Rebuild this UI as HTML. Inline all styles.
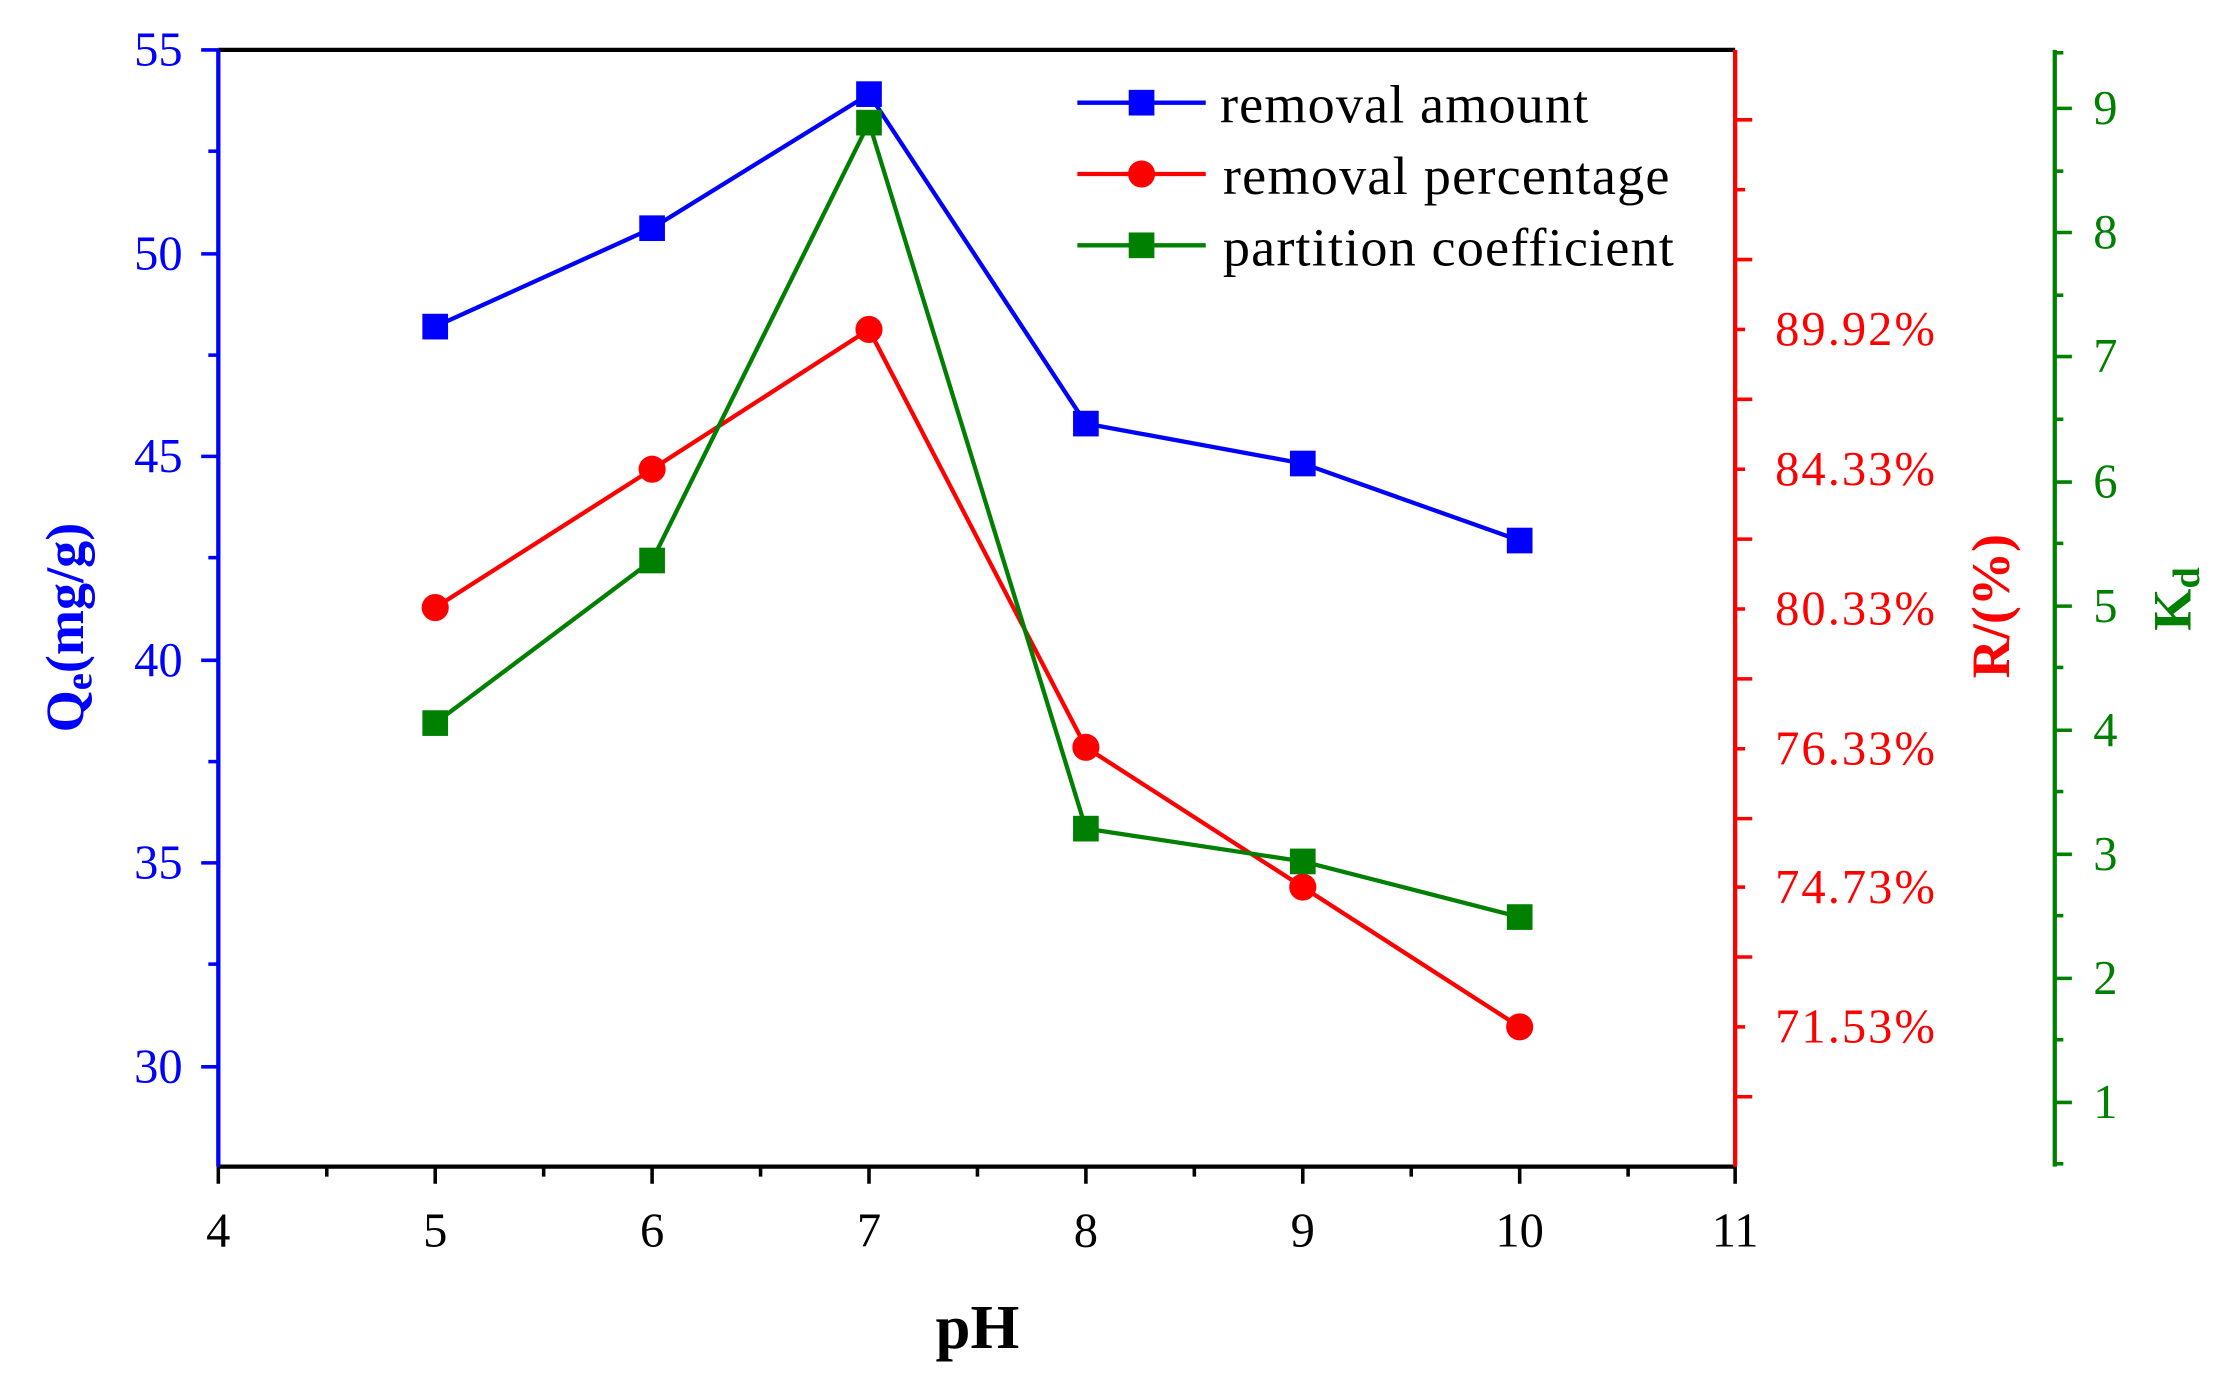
<!DOCTYPE html>
<html><head><style>html,body{margin:0;padding:0;background:#fff}svg{display:block}</style></head>
<body>
<svg width="2226" height="1382" viewBox="0 0 1560 969" preserveAspectRatio="none" xmlns="http://www.w3.org/2000/svg" font-family="Liberation Serif, serif">
<rect width="1560" height="969" fill="#fff"/>
<line x1="153" y1="35" x2="1216" y2="35" stroke="#000" stroke-width="3"/>
<line x1="153" y1="818" x2="1216" y2="818" stroke="#000" stroke-width="3"/>
<line x1="153" y1="35" x2="153" y2="818" stroke="#0000ff" stroke-width="3"/>
<line x1="1216" y1="35" x2="1216" y2="818" stroke="#ff0000" stroke-width="3"/>
<line x1="1440" y1="35" x2="1440" y2="818" stroke="#008000" stroke-width="3"/>
<g stroke="#000" stroke-width="2.5">
<line x1="153" y1="818" x2="153" y2="830"/><line x1="305" y1="818" x2="305" y2="830"/><line x1="457" y1="818" x2="457" y2="830"/><line x1="609" y1="818" x2="609" y2="830"/><line x1="761" y1="818" x2="761" y2="830"/><line x1="913" y1="818" x2="913" y2="830"/><line x1="1065" y1="818" x2="1065" y2="830"/><line x1="1216" y1="818" x2="1216" y2="830"/>
<line x1="229" y1="818" x2="229" y2="825"/><line x1="381" y1="818" x2="381" y2="825"/><line x1="533" y1="818" x2="533" y2="825"/><line x1="685" y1="818" x2="685" y2="825"/><line x1="837" y1="818" x2="837" y2="825"/><line x1="989" y1="818" x2="989" y2="825"/><line x1="1141" y1="818" x2="1141" y2="825"/>
</g>
<g font-size="34" text-anchor="middle" fill="#000">
<text x="153" y="874">4</text><text x="305" y="874">5</text><text x="457" y="874">6</text><text x="609" y="874">7</text><text x="761" y="874">8</text><text x="913" y="874">9</text><text x="1065" y="874">10</text><text x="1216" y="874">11</text>
</g>
<g stroke="#0000ff" stroke-width="2.5">
<line x1="141" y1="35" x2="153" y2="35"/><line x1="141" y1="178" x2="153" y2="178"/><line x1="141" y1="320" x2="153" y2="320"/><line x1="141" y1="463" x2="153" y2="463"/><line x1="141" y1="605" x2="153" y2="605"/><line x1="141" y1="748" x2="153" y2="748"/>
<line x1="146" y1="106" x2="153" y2="106"/><line x1="146" y1="249" x2="153" y2="249"/><line x1="146" y1="391" x2="153" y2="391"/><line x1="146" y1="534" x2="153" y2="534"/><line x1="146" y1="676" x2="153" y2="676"/>
</g>
<g font-size="34" text-anchor="end" fill="#0000ff">
<text x="128" y="46">55</text><text x="128" y="189">50</text><text x="128" y="331">45</text><text x="128" y="474">40</text><text x="128" y="616">35</text><text x="128" y="759">30</text>
</g>
<text transform="translate(58,440) rotate(-90)" font-size="38" font-weight="bold" fill="#0000ff" text-anchor="middle">Q<tspan font-size="27" dy="6">e</tspan><tspan dy="-6">(mg/g)</tspan></text>
<g stroke="#ff0000" stroke-width="2.5">
<line x1="1216" y1="84" x2="1228" y2="84"/><line x1="1216" y1="133" x2="1223" y2="133"/><line x1="1216" y1="182" x2="1228" y2="182"/><line x1="1216" y1="231" x2="1223" y2="231"/><line x1="1216" y1="280" x2="1228" y2="280"/><line x1="1216" y1="329" x2="1223" y2="329"/><line x1="1216" y1="378" x2="1228" y2="378"/><line x1="1216" y1="427" x2="1223" y2="427"/><line x1="1216" y1="476" x2="1228" y2="476"/><line x1="1216" y1="525" x2="1223" y2="525"/><line x1="1216" y1="574" x2="1228" y2="574"/><line x1="1216" y1="622" x2="1223" y2="622"/><line x1="1216" y1="671" x2="1228" y2="671"/><line x1="1216" y1="720" x2="1223" y2="720"/><line x1="1216" y1="769" x2="1228" y2="769"/>
</g>
<g font-size="34" fill="#ff0000" textLength="112">
<text x="1244" y="242" textLength="112">89.92%</text><text x="1244" y="340" textLength="112">84.33%</text><text x="1244" y="438" textLength="112">80.33%</text><text x="1244" y="536" textLength="112">76.33%</text><text x="1244" y="633" textLength="112">74.73%</text><text x="1244" y="731" textLength="112">71.53%</text>
</g>
<text transform="translate(1408,425) rotate(-90)" font-size="38" font-weight="bold" fill="#ff0000" text-anchor="middle">R/(%)</text>
<g stroke="#008000" stroke-width="2.5">
<line x1="1440" y1="76" x2="1452" y2="76"/><line x1="1440" y1="163" x2="1452" y2="163"/><line x1="1440" y1="250" x2="1452" y2="250"/><line x1="1440" y1="338" x2="1452" y2="338"/><line x1="1440" y1="425" x2="1452" y2="425"/><line x1="1440" y1="512" x2="1452" y2="512"/><line x1="1440" y1="599" x2="1452" y2="599"/><line x1="1440" y1="686" x2="1452" y2="686"/><line x1="1440" y1="773" x2="1452" y2="773"/>
<line x1="1440" y1="120" x2="1446" y2="120"/><line x1="1440" y1="207" x2="1446" y2="207"/><line x1="1440" y1="294" x2="1446" y2="294"/><line x1="1440" y1="381" x2="1446" y2="381"/><line x1="1440" y1="468" x2="1446" y2="468"/><line x1="1440" y1="555" x2="1446" y2="555"/><line x1="1440" y1="642" x2="1446" y2="642"/><line x1="1440" y1="729" x2="1446" y2="729"/><line x1="1440" y1="816" x2="1446" y2="816"/><line x1="1440" y1="37" x2="1446" y2="37"/>
</g>
<g font-size="34" fill="#008000">
<text x="1467" y="87">9</text><text x="1467" y="174">8</text><text x="1467" y="261">7</text><text x="1467" y="349">6</text><text x="1467" y="436">5</text><text x="1467" y="523">4</text><text x="1467" y="610">3</text><text x="1467" y="697">2</text><text x="1467" y="784">1</text>
</g>
<text transform="translate(1535,420) rotate(-90)" font-size="38" font-weight="bold" fill="#008000" text-anchor="middle">K<tspan font-size="27" dy="6">d</tspan></text>
<text x="685" y="945" font-size="44" font-weight="bold" text-anchor="middle">pH</text>
<polyline points="305,229 457,160 609,66 761,297 913,325 1065,379" fill="none" stroke="#0000ff" stroke-width="3"/>
<polyline points="305,426 457,329 609,231 761,524 913,622 1065,720" fill="none" stroke="#ff0000" stroke-width="3"/>
<polyline points="305,507 457,393 609,86 761,581 913,604 1065,643" fill="none" stroke="#008000" stroke-width="3"/>
<g fill="#0000ff"><rect x="296" y="220" width="18" height="18"/><rect x="448" y="151" width="18" height="18"/><rect x="600" y="57" width="18" height="18"/><rect x="752" y="288" width="18" height="18"/><rect x="904" y="316" width="18" height="18"/><rect x="1056" y="370" width="18" height="18"/></g>
<g fill="#ff0000"><circle cx="305" cy="426" r="9.5"/><circle cx="457" cy="329" r="9.5"/><circle cx="609" cy="231" r="9.5"/><circle cx="761" cy="524" r="9.5"/><circle cx="913" cy="622" r="9.5"/><circle cx="1065" cy="720" r="9.5"/></g>
<g fill="#008000"><rect x="296" y="498" width="18" height="18"/><rect x="448" y="384" width="18" height="18"/><rect x="600" y="77" width="18" height="18"/><rect x="752" y="572" width="18" height="18"/><rect x="904" y="595" width="18" height="18"/><rect x="1056" y="634" width="18" height="18"/></g>
<line x1="755" y1="72" x2="845" y2="72" stroke="#0000ff" stroke-width="3"/><rect x="791" y="63" width="18" height="18" fill="#0000ff"/>
<line x1="755" y1="122" x2="845" y2="122" stroke="#ff0000" stroke-width="3"/><circle cx="800" cy="122" r="9.5" fill="#ff0000"/>
<line x1="755" y1="172" x2="845" y2="172" stroke="#008000" stroke-width="3"/><rect x="791" y="163" width="18" height="18" fill="#008000"/>
<g font-size="38" fill="#000"><text x="855" y="86" textLength="258">removal amount</text><text x="857" y="136" textLength="313">removal percentage</text><text x="857" y="186" textLength="316">partition coefficient</text></g>
</svg>
</body></html>
